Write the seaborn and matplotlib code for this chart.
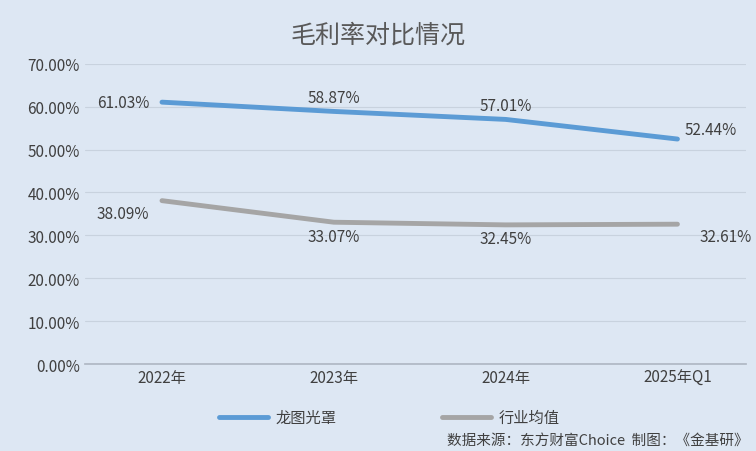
import matplotlib
matplotlib.use('Agg')
import matplotlib.pyplot as plt
import seaborn as sns
import pandas as pd

periods = ['2022年', '2023年', '2024年', '2025年Q1']
longtu = [61.03, 58.87, 57.01, 52.44]
industry = [38.09, 33.07, 32.45, 32.61]

sns.set_theme(style='white')
plt.rcParams['font.family'] = ['Noto Sans CJK SC', 'DejaVu Sans']
bg = '#dde7f3'

df = pd.DataFrame({'x': list(range(4)) * 2,
                   'v': longtu + industry,
                   's': ['龙图光罩'] * 4 + ['行业均值'] * 4})

fig = plt.figure(figsize=(7.56, 4.52), dpi=100, facecolor=bg)
ax = fig.add_axes([0.112, 0.192, 0.875, 0.665], facecolor=bg)
sns.lineplot(data=df, x='x', y='v', hue='s', palette=['#5b9bd5', '#a5a5a5'],
             linewidth=3.5, ax=ax, legend=False)

ax.set_ylim(0, 70)
ax.set_xlim(-0.45, 3.4)
ax.set_yticks(range(0, 71, 10))
ax.set_yticklabels([f'{v:.2f}%' for v in range(0, 71, 10)], fontsize=11, color='#404040')
ax.set_xticks(range(4))
ax.set_xticklabels(periods, fontsize=11, color='#404040')
ax.set_xlabel('')
ax.set_ylabel('')
ax.grid(axis='y', color='#c8d2de', linewidth=0.8)
for s in ['top', 'right', 'left']:
    ax.spines[s].set_visible(False)
ax.spines['bottom'].set_color('#b0b8c4')
ax.tick_params(length=0)

off_a = [(-28, 0), (0, 10), (0, 10), (24, 7)]
off_b = [(-28, -9), (0, -10), (0, -10), (35, -9)]
for i in range(4):
    ax.annotate(f'{longtu[i]:.2f}%', (i, longtu[i]), xytext=off_a[i], textcoords='offset points',
                ha='center', va='center', fontsize=11, color='#404040')
    ax.annotate(f'{industry[i]:.2f}%', (i, industry[i]), xytext=off_b[i], textcoords='offset points',
                ha='center', va='center', fontsize=11, color='#404040')

fig.text(0.5, 0.922, '毛利率对比情况', ha='center', va='center', fontsize=18, color='#595959')
fig.lines.append(plt.Line2D([0.29, 0.355], [0.075, 0.075], transform=fig.transFigure,
                            color='#5b9bd5', linewidth=3.5))
fig.text(0.365, 0.075, '龙图光罩', va='center', fontsize=11, color='#404040')
fig.lines.append(plt.Line2D([0.585, 0.65], [0.075, 0.075], transform=fig.transFigure,
                            color='#a5a5a5', linewidth=3.5))
fig.text(0.66, 0.075, '行业均值', va='center', fontsize=11, color='#404040')
fig.text(0.99, 0.025, '数据来源：东方财富Choice  制图：《金基研》', ha='right', va='center',
         fontsize=10.5, color='#404040')

fig.savefig('out.png', dpi=100, facecolor=bg)
